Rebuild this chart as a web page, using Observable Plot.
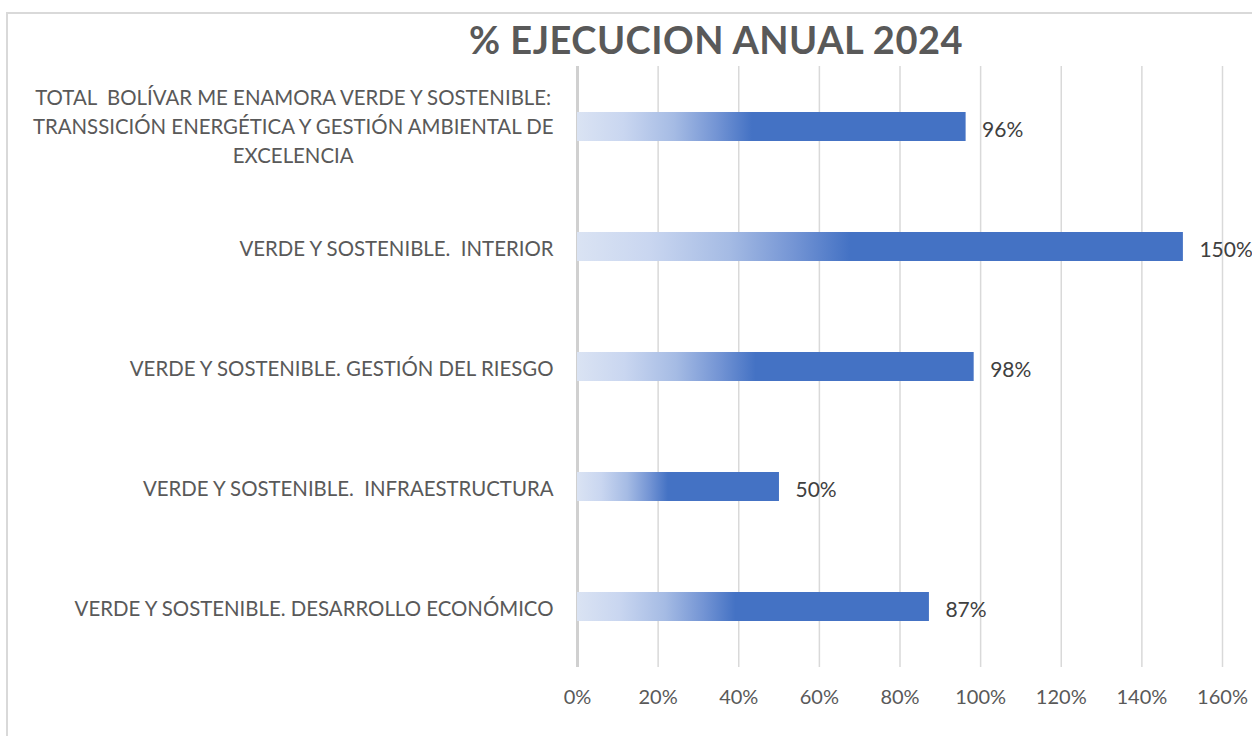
<!DOCTYPE html>
<html>
<head>
<meta charset="utf-8">
<script src="https://cdn.jsdelivr.net/npm/d3@7"></script>
<script src="https://cdn.jsdelivr.net/npm/@observablehq/plot@0.6"></script>
<style>
  html, body { margin: 0; padding: 0; background: #fff; width: 1252px; height: 736px; overflow: hidden; }
  #frame { position: absolute; left: 6px; top: 12px; width: 1400px; height: 800px; border: 2px solid #d9d9d9; box-sizing: border-box; }
  #title { position: absolute; left: 416px; width: 600px; top: 16px; text-align: center; font-family: Lato, "Open Sans", sans-serif; font-weight: bold; font-size: 38px; color: #595959; letter-spacing: 0.5px; white-space: nowrap; }
  #chart { position: absolute; left: 0; top: 0; }
  svg text { white-space: pre; }
</style>
</head>
<body>
<div id="frame"></div>
<div id="title">% EJECUCION ANUAL 2024</div>
<div id="chart"></div>
<script>
const categories = [
  "TOTAL  BOLÍVAR ME ENAMORA VERDE Y SOSTENIBLE: TRANSSICIÓN ENERGÉTICA Y GESTIÓN AMBIENTAL DE EXCELENCIA",
  "VERDE Y SOSTENIBLE.  INTERIOR",
  "VERDE Y SOSTENIBLE. GESTIÓN DEL RIESGO",
  "VERDE Y SOSTENIBLE.  INFRAESTRUCTURA",
  "VERDE Y SOSTENIBLE. DESARROLLO ECONÓMICO"
];
const categoryLines = [
  "TOTAL  BOLÍVAR ME ENAMORA VERDE Y SOSTENIBLE:\nTRANSSICIÓN ENERGÉTICA Y GESTIÓN AMBIENTAL DE\nEXCELENCIA",
  "VERDE Y SOSTENIBLE.  INTERIOR",
  "VERDE Y SOSTENIBLE. GESTIÓN DEL RIESGO",
  "VERDE Y SOSTENIBLE.  INFRAESTRUCTURA",
  "VERDE Y SOSTENIBLE. DESARROLLO ECONÓMICO"
];
const values = [0.964, 1.503, 0.984, 0.501, 0.873];
const xTicks = [0, 0.2, 0.4, 0.6, 0.8, 1.0, 1.2, 1.4, 1.6];

const data = categories.map((c, i) => ({category: c, value: values[i]}));
const lineMap = new Map(categories.map((c, i) => [c, categoryLines[i]]));
const fmt = d3.format(".0%");
const FONT = "Lato, 'Open Sans', sans-serif";

const plot = Plot.plot({
  width: 1252,
  height: 736,
  marginLeft: 577,
  marginRight: 30,
  marginTop: 66,
  marginBottom: 69,
  style: {fontFamily: FONT, fontSize: "20px", color: "#595959", background: "transparent"},
  x: {domain: [0, 1.6], ticks: xTicks, label: null},
  y: {domain: categories, paddingInner: 0.76, paddingOuter: 0.38, align: 0.5, label: null},
  marks: [
    Plot.gridX(xTicks, {stroke: "#d9d9d9", strokeOpacity: 1, strokeWidth: 1.5}),
    Plot.ruleX([0], {stroke: "#d0d0d0", strokeWidth: 3}),
    Plot.barX(data, {x: "value", y: "category", fill: "url(#barGrad)"}),
    Plot.text(data, {x: "value", y: "category", text: d => fmt(d.value), dx: 16, dy: 3, textAnchor: "start", fill: "#404040", fontSize: 21}),
    Plot.axisX({ticks: xTicks, tickFormat: fmt, tickSize: 0, tickPadding: 22, fill: "#595959", fontSize: 20, label: null}),
    Plot.axisY({tickSize: 0, tickPadding: 24, tickFormat: d => lineMap.get(d), textAnchor: "end", lineHeight: 1.42, fill: "#595959", fontSize: 20.4, label: null})
  ]
});

// gradient definition
const ns = "http://www.w3.org/2000/svg";
const defs = document.createElementNS(ns, "defs");
defs.innerHTML = `<linearGradient id="barGrad" x1="0" y1="0" x2="1" y2="0">
  <stop offset="0" stop-color="#dae3f3"/>
  <stop offset="0.12" stop-color="#c9d6f0"/>
  <stop offset="0.25" stop-color="#a5bbe4"/>
  <stop offset="0.36" stop-color="#7394d4"/>
  <stop offset="0.45" stop-color="#4472c4"/>
  <stop offset="1" stop-color="#4472c4"/>
</linearGradient>`;
plot.insertBefore(defs, plot.firstChild);
document.getElementById("chart").appendChild(plot);

// center multi-line tick labels within their own block (as the original does)
plot.querySelectorAll("g[aria-label='y-axis tick label'] text").forEach(t => {
  const spans = t.querySelectorAll("tspan");
  if (spans.length > 1) {
    let w = 0;
    spans.forEach(s => { w = Math.max(w, s.getComputedTextLength()); });
    t.setAttribute("text-anchor", "middle");
    spans.forEach(s => s.setAttribute("x", -w / 2));
    t.setAttribute("dy", "-0.1em");
  }
});
</script>
</body>
</html>
